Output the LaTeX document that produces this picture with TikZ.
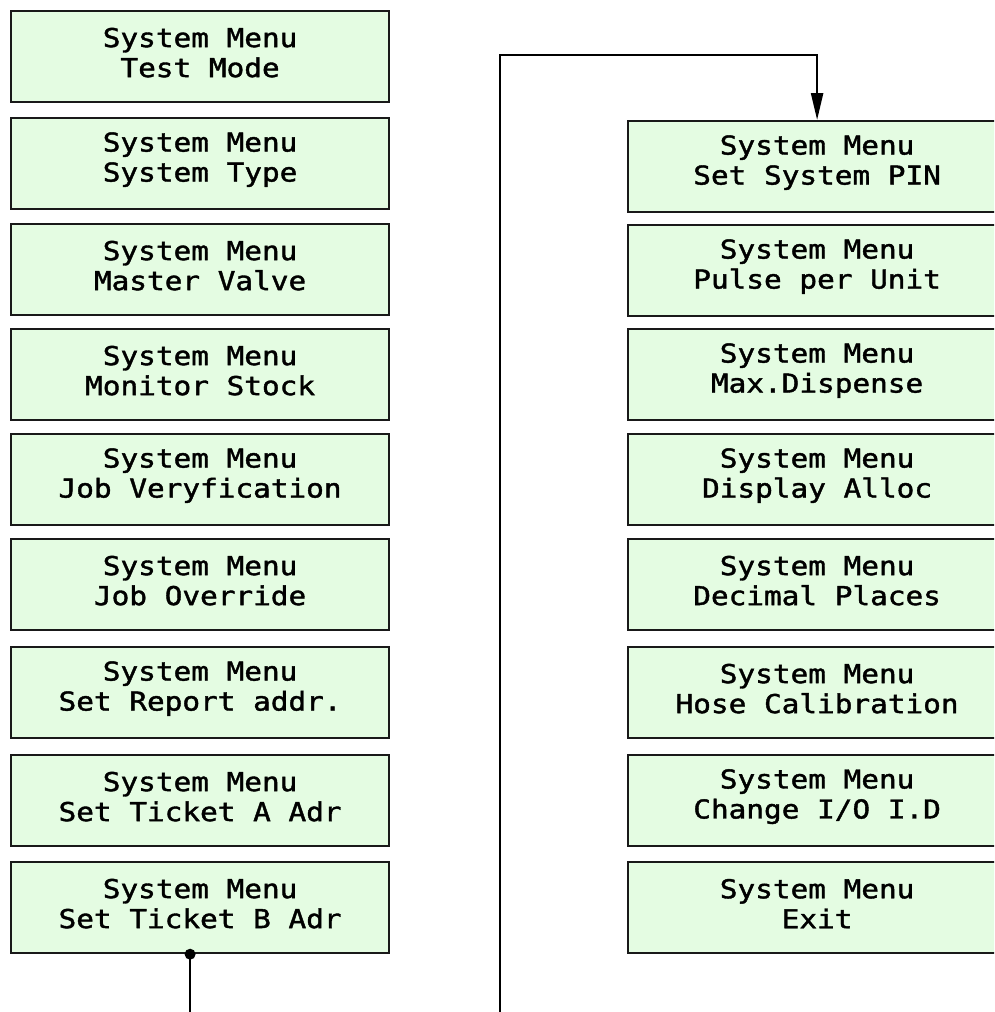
\documentclass[tikz,border=0pt]{standalone}
\usepackage{fontspec}
\newfontfamily\lcd[FakeStretch=1.13,FakeBold=1.5]{DejaVu Sans Mono}
\usetikzlibrary{arrows.meta}
\definecolor{lcdgreen}{RGB}{228,252,226}
\definecolor{edge}{RGB}{25,25,25}
\tikzset{
  menubox/.style={draw=edge, line width=2.2pt, fill=lcdgreen, rectangle,
    minimum width=378pt, minimum height=91pt, inner sep=0pt, anchor=north west},
  lcdtext/.style={align=center, inner sep=0pt, font=\lcd\fontsize{26}{30}\selectfont},
  link/.style={draw=black, line width=2.4pt},
}
\newcommand\menuitem[3]{%
  \node[menubox] (#1) at (#2) {};
  \node[lcdtext] (#1t) at ([yshift=4pt]#1.center) {System Menu\\#3};
}
\begin{document}
\begin{tikzpicture}[x=1pt,y=-1pt]
\useasboundingbox (0,0) rectangle (994,1012);
\clip (0,0) rectangle (994,1012);
% left column
\menuitem{l1}{10,10}{Test Mode}
\menuitem{l2}{10,117}{System Type}
\menuitem{l3}{10,223}{Master Valve}
\menuitem{l4}{10,328}{Monitor Stock}
\menuitem{l5}{10,433}{Job Veryfication}
\menuitem{l6}{10,538}{Job Override}
\menuitem{l7}{10,646}{Set Report addr.}
\menuitem{l8}{10,754}{Set Ticket A Adr}
\menuitem{l9}{10,861}{Set Ticket B Adr}
% right column
\menuitem{r1}{627,120}{Set System PIN}
\menuitem{r2}{627,224}{Pulse per Unit}
\menuitem{r3}{627,328}{Max.Dispense}
\menuitem{r4}{627,433}{Display Alloc}
\menuitem{r5}{627,538}{Decimal Places}
\menuitem{r6}{627,646}{Hose Calibration}
\menuitem{r7}{627,754}{Change I/O I.D}
\menuitem{r8}{627,861}{Exit}
% connector
\coordinate (out) at ([xshift=-10pt]l9.south);
\coordinate (turn) at (500,55);
\draw[link, -{Triangle[length=27pt,width=12pt]}] (out) -- ++(0,100) -| (turn) -| (r1.north);
\fill (out) circle (5.5pt);
\end{tikzpicture}
\end{document}
